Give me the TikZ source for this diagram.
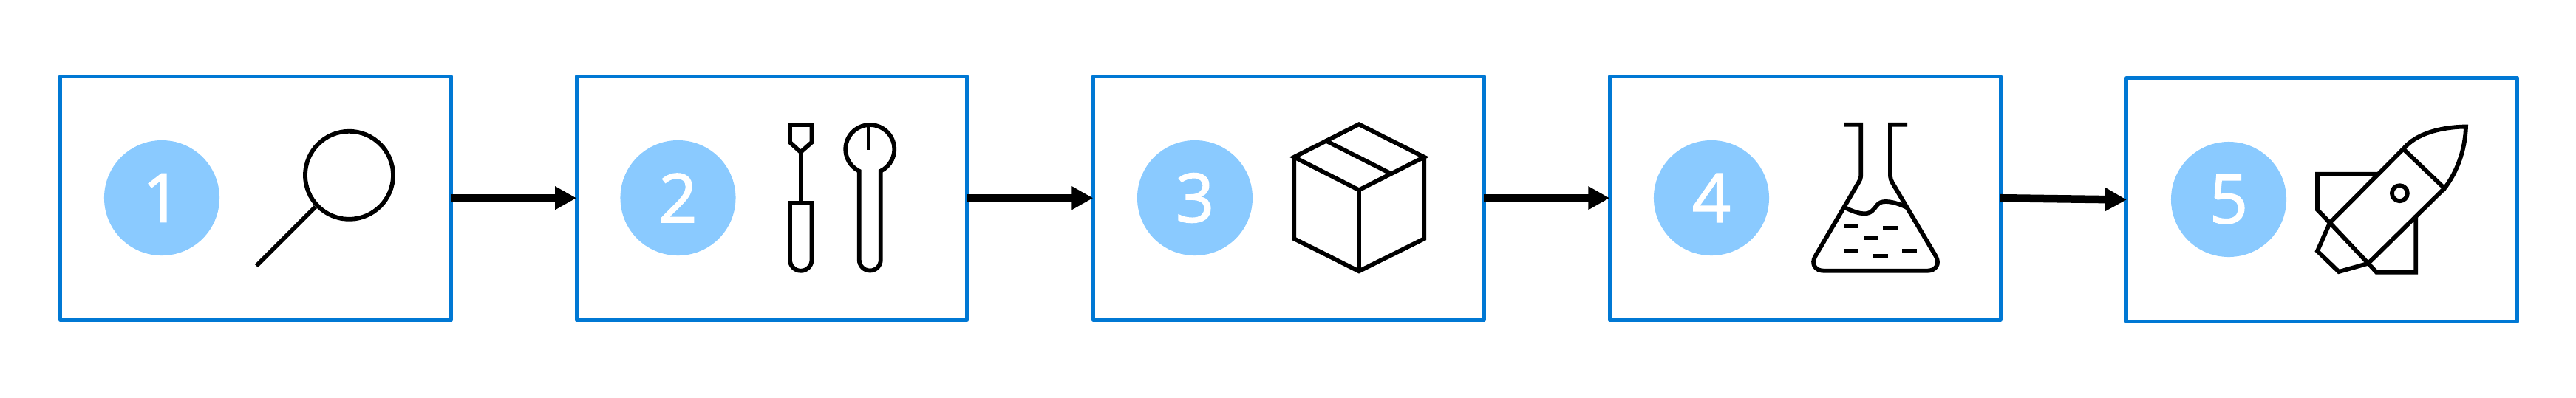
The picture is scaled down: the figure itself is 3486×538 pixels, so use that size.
\documentclass[tikz,border=0pt]{standalone}
\usepackage{fontspec}
\setmainfont{Open Sans}
\newfontfamily\badgefont[FakeBold=1.6]{Open Sans}
\usetikzlibrary{arrows.meta}
\definecolor{boxblue}{HTML}{0078D4}
\definecolor{badgeblue}{HTML}{8ACAFF}

\begin{document}
\begin{tikzpicture} [
    x=0.01cm, y=0.01cm,
    stepbox/.style = {draw=boxblue, line width=0.05cm, outer sep=0pt, line join=round, minimum width=5.285cm, minimum height=3.3cm},
    badge/.style = {circle, fill=badgeblue, text=white, inner sep=0pt, minimum size=1.56cm, font=\badgefont\fontsize{26}{28}\selectfont},
    icon/.style = {draw=black, line width=0.058cm, line join=miter},
    flow/.style = {draw=black, line width=0.105cm, -{Triangle[length=0.29cm, width=0.3cm]}}
]
    \useasboundingbox (0,0) rectangle (3486,538);

    \node [stepbox] (find) at (345.9,269.8) {};
    \node [stepbox] (tools) at (1044.5,269.8) {};
    \node [stepbox] (package) at (1743.7,269.8) {};
    \node [stepbox] (flask) at (2442.7,269.8) {};
    \node [stepbox] (rocket) at (3142.3,267.5) {};

    \node [badge] (one) at (219,270) {1};
    \node [badge] (two) at (917.5,270) {2};
    \node [badge] (three) at (1617,270) {3};
    \node [badge] (four) at (2316,270) {4};
    \node [badge] (five) at (3016,268) {5};

    \draw [flow] (find.east) -- (tools.west);
    \draw [flow] (tools.east) -- (package.west);
    \draw [flow] (package.east) -- (flask.west);
    \draw [flow] (flask.east) -- (rocket.west);

    % magnifier
    \draw [icon] (472.5,300.7) circle (59.5);
    \draw [icon] (427,258) -- (347,178);

    % screwdriver and wrench
    \draw [icon] (1069,369) -- (1098.5,369) -- (1098.5,345.3) -- (1083.5,332) -- (1069,345.3) -- cycle;
    \draw [icon] (1083.5,332) -- (1083.5,263);
    \draw [icon] (1069,263) -- (1098.5,263) -- (1098.5,186) arc [start angle=0, end angle=-180, radius=14.75] -- cycle;
    \draw [icon] (1162.8,186) -- (1162.8,306.3) arc [start angle=244, delta angle=-308, radius=33] -- (1191.8,186) arc [start angle=0, end angle=-180, radius=14.5];
    \draw [icon] (1175.4,369) -- (1175.4,334.7);

    % package
    \draw [icon] (1839,369.7) -- (1927.3,325.3) -- (1839,280.7) -- (1751.3,325.3) -- cycle;
    \draw [icon] (1751.3,325.3) -- (1751.3,214.7) -- (1839,170.7) -- (1927.3,214.7) -- (1927.3,325.3);
    \draw [icon] (1839,280.7) -- (1839,170.7);
    \draw [icon] (1794.5,347.3) -- (1882.7,302.7);

    % flask
    \draw [icon] (2495,369.3) -- (2518.2,369.3) -- (2518.2,299.7) .. controls (2518.2,296) and (2517,295) .. (2515.3,291.3)
        -- (2456.7,191.3) .. controls (2450,180) and (2457,171.3) .. (2467.8,171.3)
        -- (2608.4,171.3) .. controls (2619,171.3) and (2626,180) .. (2619.5,191.3)
        -- (2560.4,291.3) .. controls (2559,295) and (2558,296) .. (2558,299.7)
        -- (2558,369.3) -- (2581.2,369.3);
    \draw [icon] (2494.5,258) .. controls (2510,250) and (2525,245) .. (2533,252)
        .. controls (2540,258) and (2540,265) .. (2552,265)
        .. controls (2562,265) and (2575,260) .. (2581.7,256.3);
    \draw [icon, line width=0.06cm] (2494.9,232) -- (2514.3,232) (2548.3,229.3) -- (2567.7,229.3)
        (2521.6,216) -- (2541,216) (2494.9,197.7) -- (2514.3,197.7)
        (2574.4,197.7) -- (2593.8,197.7) (2535.2,191.3) -- (2554.6,191.3);

    % rocket
    \draw [icon] (3252.3,336.3) .. controls (3270,358) and (3305,366) .. (3337,366.5)
        .. controls (3336,335) and (3325,305) .. (3308,283) -- cycle;
    \draw [icon] (3252.3,336.3) -- (3152.9,236.3) -- (3204.8,181.3) -- (3308,283);
    \draw [icon] (3218.4,302.3) -- (3136,302.3) -- (3136,254) -- (3152.9,236.3);
    \draw [icon] (3152.9,236.3) -- (3136,198) -- (3165,170) -- (3204.8,181.3);
    \draw [icon] (3204.8,181.3) -- (3216,169.3) -- (3269.2,169.3) -- (3269.2,246.3);
    \draw [icon] (3247.4,276.3) circle (10.5);
\end{tikzpicture}
\end{document}
